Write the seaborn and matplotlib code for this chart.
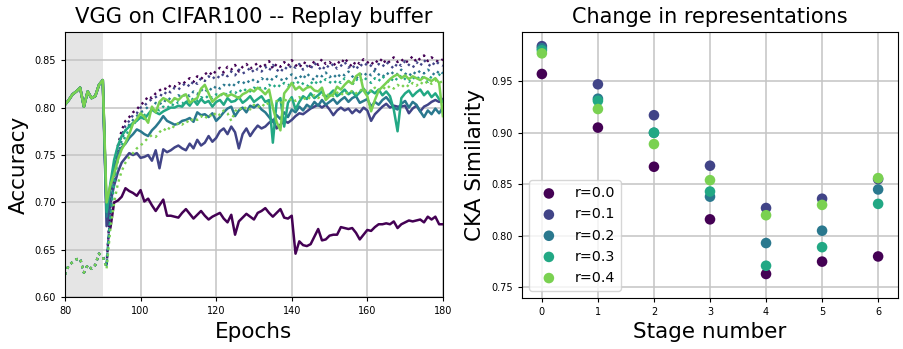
import numpy as np
import pandas as pd
import matplotlib
matplotlib.use("Agg")
import matplotlib.pyplot as plt
import seaborn as sns

# ---------------- data ----------------
ratios = ["0.0", "0.1", "0.2", "0.3", "0.4"]
epochs = list(range(80, 181))

# shared warm-up phase (epochs 80..90)
pre_test = [0.803, 0.808, 0.814, 0.817, 0.821, 0.801, 0.817, 0.810, 0.812, 0.824, 0.829]
pre_train = [0.624, 0.634, 0.637, 0.640, 0.641, 0.626, 0.634, 0.630, 0.634, 0.646, 0.643]

# test accuracy (solid), epochs 91..180
test_r0 = [0.690, 0.673, 0.700, 0.702, 0.706, 0.715, 0.712, 0.710, 0.707, 0.713,
           0.701, 0.704, 0.697, 0.691, 0.697, 0.703, 0.686, 0.686, 0.685, 0.684,
           0.689, 0.693, 0.688, 0.683, 0.687, 0.691, 0.686, 0.682, 0.685, 0.687,
           0.689, 0.683, 0.679, 0.687, 0.666, 0.680, 0.684, 0.688, 0.685, 0.682,
           0.689, 0.691, 0.694, 0.689, 0.685, 0.689, 0.693, 0.684, 0.683, 0.686,
           0.646, 0.659, 0.655, 0.654, 0.656, 0.664, 0.672, 0.660, 0.661, 0.665,
           0.666, 0.666, 0.674, 0.673, 0.672, 0.673, 0.668, 0.661, 0.666, 0.671,
           0.670, 0.674, 0.677, 0.677, 0.678, 0.677, 0.680, 0.673, 0.677, 0.679,
           0.681, 0.680, 0.681, 0.682, 0.679, 0.685, 0.682, 0.685, 0.677, 0.677]
test_r1 = [0.675, 0.700, 0.718, 0.732, 0.742, 0.747, 0.752, 0.750, 0.752, 0.747,
           0.748, 0.750, 0.744, 0.755, 0.736, 0.756, 0.753, 0.755, 0.758, 0.760,
           0.757, 0.755, 0.762, 0.757, 0.766, 0.760, 0.763, 0.770, 0.764, 0.768,
           0.775, 0.778, 0.772, 0.780, 0.774, 0.757, 0.772, 0.778, 0.770, 0.776,
           0.781, 0.778, 0.780, 0.784, 0.787, 0.778, 0.782, 0.786, 0.784, 0.787,
           0.791, 0.794, 0.793, 0.796, 0.799, 0.801, 0.803, 0.800, 0.803, 0.798,
           0.792, 0.797, 0.800, 0.797, 0.799, 0.794, 0.798, 0.795, 0.800, 0.797,
           0.786, 0.793, 0.797, 0.801, 0.804, 0.800, 0.802, 0.801, 0.801, 0.802,
           0.794, 0.799, 0.802, 0.796, 0.801, 0.803, 0.806, 0.808, 0.806, 0.809]
test_r2 = [0.685, 0.715, 0.735, 0.750, 0.758, 0.762, 0.768, 0.772, 0.777, 0.775,
           0.772, 0.770, 0.776, 0.780, 0.785, 0.791, 0.786, 0.784, 0.782, 0.783,
           0.786, 0.787, 0.789, 0.785, 0.795, 0.792, 0.793, 0.790, 0.794, 0.786,
           0.790, 0.795, 0.799, 0.801, 0.791, 0.797, 0.800, 0.795, 0.802, 0.800,
           0.803, 0.798, 0.795, 0.790, 0.785, 0.792, 0.788, 0.795, 0.790, 0.798,
           0.795, 0.801, 0.797, 0.803, 0.800, 0.806, 0.802, 0.808, 0.803, 0.806,
           0.809, 0.804, 0.808, 0.811, 0.806, 0.810, 0.812, 0.805, 0.807, 0.809,
           0.801, 0.806, 0.803, 0.808, 0.811, 0.806, 0.800, 0.798, 0.804, 0.807,
           0.800, 0.806, 0.803, 0.796, 0.790, 0.797, 0.793, 0.799, 0.794, 0.800]
test_r3 = [0.690, 0.720, 0.745, 0.760, 0.770, 0.776, 0.780, 0.784, 0.786, 0.790,
           0.788, 0.793, 0.798, 0.795, 0.793, 0.796, 0.798, 0.800, 0.800, 0.802,
           0.801, 0.806, 0.802, 0.808, 0.803, 0.809, 0.805, 0.807, 0.801, 0.806,
           0.808, 0.803, 0.810, 0.806, 0.807, 0.811, 0.805, 0.808, 0.812, 0.806,
           0.809, 0.812, 0.806, 0.808, 0.763, 0.806, 0.810, 0.780, 0.805, 0.811,
           0.798, 0.806, 0.812, 0.809, 0.815, 0.810, 0.813, 0.817, 0.811, 0.814,
           0.818, 0.812, 0.815, 0.819, 0.814, 0.817, 0.812, 0.816, 0.820, 0.814,
           0.818, 0.815, 0.819, 0.813, 0.817, 0.812, 0.798, 0.775, 0.810, 0.815,
           0.818, 0.812, 0.816, 0.819, 0.813, 0.817, 0.811, 0.815, 0.809, 0.806]
test_r4 = [0.700, 0.718, 0.730, 0.745, 0.756, 0.763, 0.772, 0.783, 0.788, 0.794,
           0.790, 0.784, 0.801, 0.795, 0.806, 0.810, 0.808, 0.805, 0.810, 0.808,
           0.812, 0.814, 0.805, 0.808, 0.810, 0.820, 0.824, 0.815, 0.806, 0.810,
           0.813, 0.815, 0.812, 0.814, 0.812, 0.810, 0.814, 0.816, 0.819, 0.817,
           0.821, 0.818, 0.814, 0.819, 0.800, 0.785, 0.776, 0.815, 0.820, 0.826,
           0.819, 0.822, 0.818, 0.821, 0.822, 0.818, 0.817, 0.821, 0.808, 0.812,
           0.814, 0.822, 0.819, 0.824, 0.828, 0.825, 0.833, 0.836, 0.818, 0.812,
           0.796, 0.808, 0.818, 0.822, 0.826, 0.830, 0.833, 0.835, 0.831, 0.834,
           0.830, 0.833, 0.831, 0.829, 0.832, 0.830, 0.828, 0.831, 0.826, 0.791]

# train accuracy (dotted), epochs 91..180
train_r0 = [0.632, 0.698, 0.735, 0.760, 0.776, 0.786, 0.790, 0.795, 0.798, 0.803,
            0.806, 0.812, 0.810, 0.815, 0.818, 0.821, 0.819, 0.824, 0.822, 0.826,
            0.824, 0.828, 0.831, 0.827, 0.833, 0.830, 0.835, 0.838, 0.834, 0.839,
            0.842, 0.837, 0.843, 0.840, 0.845, 0.838, 0.843, 0.846, 0.841, 0.844,
            0.847, 0.842, 0.845, 0.849, 0.841, 0.846, 0.843, 0.848, 0.844, 0.850,
            0.845, 0.842, 0.848, 0.846, 0.843, 0.849, 0.845, 0.851, 0.846, 0.848,
            0.844, 0.849, 0.846, 0.852, 0.847, 0.843, 0.849, 0.846, 0.851, 0.848,
            0.845, 0.850, 0.847, 0.852, 0.846, 0.849, 0.853, 0.848, 0.851, 0.847,
            0.850, 0.854, 0.848, 0.852, 0.855, 0.849, 0.853, 0.850, 0.848, 0.851]
train_r1 = [0.636, 0.695, 0.730, 0.755, 0.771, 0.781, 0.786, 0.792, 0.794, 0.800,
            0.802, 0.806, 0.809, 0.811, 0.814, 0.812, 0.818, 0.816, 0.821, 0.819,
            0.823, 0.826, 0.822, 0.828, 0.825, 0.831, 0.828, 0.833, 0.830, 0.834,
            0.831, 0.836, 0.833, 0.838, 0.834, 0.840, 0.836, 0.838, 0.842, 0.837,
            0.841, 0.838, 0.843, 0.839, 0.845, 0.840, 0.837, 0.843, 0.840, 0.845,
            0.842, 0.846, 0.840, 0.844, 0.841, 0.847, 0.843, 0.839, 0.845, 0.842,
            0.846, 0.841, 0.844, 0.848, 0.842, 0.845, 0.840, 0.846, 0.843, 0.847,
            0.844, 0.840, 0.846, 0.843, 0.848, 0.845, 0.841, 0.847, 0.844, 0.849,
            0.845, 0.842, 0.848, 0.844, 0.850, 0.846, 0.843, 0.849, 0.846, 0.844]
train_r2 = [0.634, 0.690, 0.725, 0.750, 0.766, 0.776, 0.782, 0.787, 0.791, 0.795,
            0.797, 0.801, 0.799, 0.805, 0.803, 0.808, 0.806, 0.811, 0.809, 0.813,
            0.811, 0.815, 0.812, 0.817, 0.814, 0.819, 0.816, 0.821, 0.818, 0.823,
            0.820, 0.824, 0.822, 0.826, 0.823, 0.827, 0.825, 0.829, 0.826, 0.830,
            0.827, 0.831, 0.828, 0.832, 0.829, 0.833, 0.830, 0.828, 0.832, 0.835,
            0.831, 0.834, 0.830, 0.836, 0.832, 0.829, 0.835, 0.833, 0.837, 0.832,
            0.835, 0.831, 0.836, 0.834, 0.838, 0.833, 0.830, 0.836, 0.833, 0.837,
            0.834, 0.839, 0.835, 0.832, 0.837, 0.834, 0.838, 0.835, 0.840, 0.836,
            0.833, 0.838, 0.835, 0.839, 0.836, 0.840, 0.837, 0.834, 0.839, 0.836]
train_r3 = [0.633, 0.685, 0.720, 0.745, 0.760, 0.770, 0.777, 0.782, 0.786, 0.790,
            0.792, 0.795, 0.793, 0.799, 0.797, 0.801, 0.799, 0.804, 0.802, 0.806,
            0.804, 0.808, 0.806, 0.810, 0.807, 0.811, 0.809, 0.813, 0.810, 0.814,
            0.812, 0.816, 0.813, 0.817, 0.815, 0.819, 0.816, 0.820, 0.817, 0.821,
            0.819, 0.822, 0.820, 0.824, 0.821, 0.825, 0.822, 0.826, 0.823, 0.827,
            0.824, 0.828, 0.825, 0.822, 0.827, 0.824, 0.829, 0.826, 0.830, 0.827,
            0.825, 0.829, 0.826, 0.831, 0.828, 0.824, 0.830, 0.827, 0.832, 0.829,
            0.826, 0.831, 0.828, 0.833, 0.829, 0.826, 0.832, 0.829, 0.834, 0.830,
            0.827, 0.832, 0.829, 0.834, 0.830, 0.827, 0.833, 0.830, 0.835, 0.831]
train_r4 = [0.630, 0.672, 0.700, 0.720, 0.733, 0.742, 0.748, 0.752, 0.757, 0.760,
            0.764, 0.768, 0.771, 0.769, 0.774, 0.778, 0.775, 0.781, 0.779, 0.784,
            0.782, 0.786, 0.784, 0.789, 0.787, 0.791, 0.788, 0.793, 0.790, 0.795,
            0.792, 0.797, 0.794, 0.786, 0.796, 0.800, 0.797, 0.801, 0.798, 0.803,
            0.800, 0.804, 0.801, 0.806, 0.803, 0.807, 0.804, 0.809, 0.806, 0.810,
            0.807, 0.811, 0.808, 0.812, 0.809, 0.813, 0.810, 0.814, 0.811, 0.815,
            0.812, 0.816, 0.813, 0.817, 0.814, 0.818, 0.815, 0.819, 0.816, 0.820,
            0.817, 0.821, 0.818, 0.822, 0.819, 0.823, 0.820, 0.824, 0.821, 0.825,
            0.822, 0.826, 0.823, 0.827, 0.824, 0.828, 0.825, 0.829, 0.826, 0.828]

# CKA similarity per stage
stages = [0, 1, 2, 3, 4, 5, 6]
cka_r0 = [0.957, 0.905, 0.867, 0.816, 0.763, 0.775, 0.780]
cka_r1 = [0.984, 0.947, 0.917, 0.868, 0.827, 0.836, 0.855]
cka_r2 = [0.982, 0.933, 0.900, 0.838, 0.793, 0.805, 0.845]
cka_r3 = [0.980, 0.931, 0.900, 0.843, 0.771, 0.789, 0.831]
cka_r4 = [0.977, 0.923, 0.889, 0.854, 0.820, 0.830, 0.856]

tests = [test_r0, test_r1, test_r2, test_r3, test_r4]
trains = [train_r0, train_r1, train_r2, train_r3, train_r4]
ckas = [cka_r0, cka_r1, cka_r2, cka_r3, cka_r4]

# ---------------- plot ----------------
colors = [plt.cm.viridis(v) for v in np.linspace(0, 0.8, 5)]

fig = plt.figure(figsize=(9.04, 3.49), dpi=100)
ax1 = fig.add_axes([65 / 904, 1 - 297.3 / 349, (442.9 - 65) / 904, (297.3 - 31.7) / 349])
ax2 = fig.add_axes([521.7 / 904, 1 - 297.7 / 349, (898.3 - 521.7) / 904, (297.7 - 31.7) / 349])

grid_kw = dict(color="#c4c4c4", linewidth=1.1)

ax1.axvspan(80, 90, color="#e5e5e5", zorder=0, lw=0)
for i in range(5):
    df_test = pd.DataFrame({"epoch": epochs, "acc": pre_test + tests[i]})
    df_train = pd.DataFrame({"epoch": epochs, "acc": pre_train + trains[i]})
    sns.lineplot(data=df_test, x="epoch", y="acc", ax=ax1, color=colors[i],
                 linewidth=1.8, estimator=None)
    sns.lineplot(data=df_train, x="epoch", y="acc", ax=ax1, color=colors[i],
                 linewidth=1.7, linestyle=":", estimator=None)

ax1.set_xlim(80, 180)
ax1.set_ylim(0.60, 0.88)
ax1.set_xticks([80, 100, 120, 140, 160, 180])
ax1.set_yticks([0.60, 0.65, 0.70, 0.75, 0.80, 0.85])
ax1.grid(True, **grid_kw)
ax1.set_axisbelow(True)
ax1.set_title("VGG on CIFAR100 -- Replay buffer", fontsize=15.2)
ax1.set_xlabel("Epochs", fontsize=15.5)
ax1.set_ylabel("Accuracy", fontsize=15.5)
ax1.tick_params(labelsize=7, length=3)

for i in range(5):
    sns.scatterplot(x=stages, y=ckas[i], ax=ax2, color=colors[i], s=58,
                    edgecolor="none", label=f"r={ratios[i]}", zorder=3)
ax2.set_xlim(-0.36, 6.36)
ax2.set_ylim(0.740, 0.998)
ax2.set_xticks(stages)
ax2.set_yticks([0.75, 0.80, 0.85, 0.90, 0.95])
ax2.grid(True, **grid_kw)
ax2.set_axisbelow(True)
ax2.set_title("Change in representations", fontsize=15)
ax2.set_xlabel("Stage number", fontsize=15.5)
ax2.set_ylabel("CKA Similarity", fontsize=15.5)
ax2.tick_params(labelsize=7, length=3)
ax2.legend(loc="lower left", fontsize=10.3)

fig.savefig("out.png", dpi=100)
